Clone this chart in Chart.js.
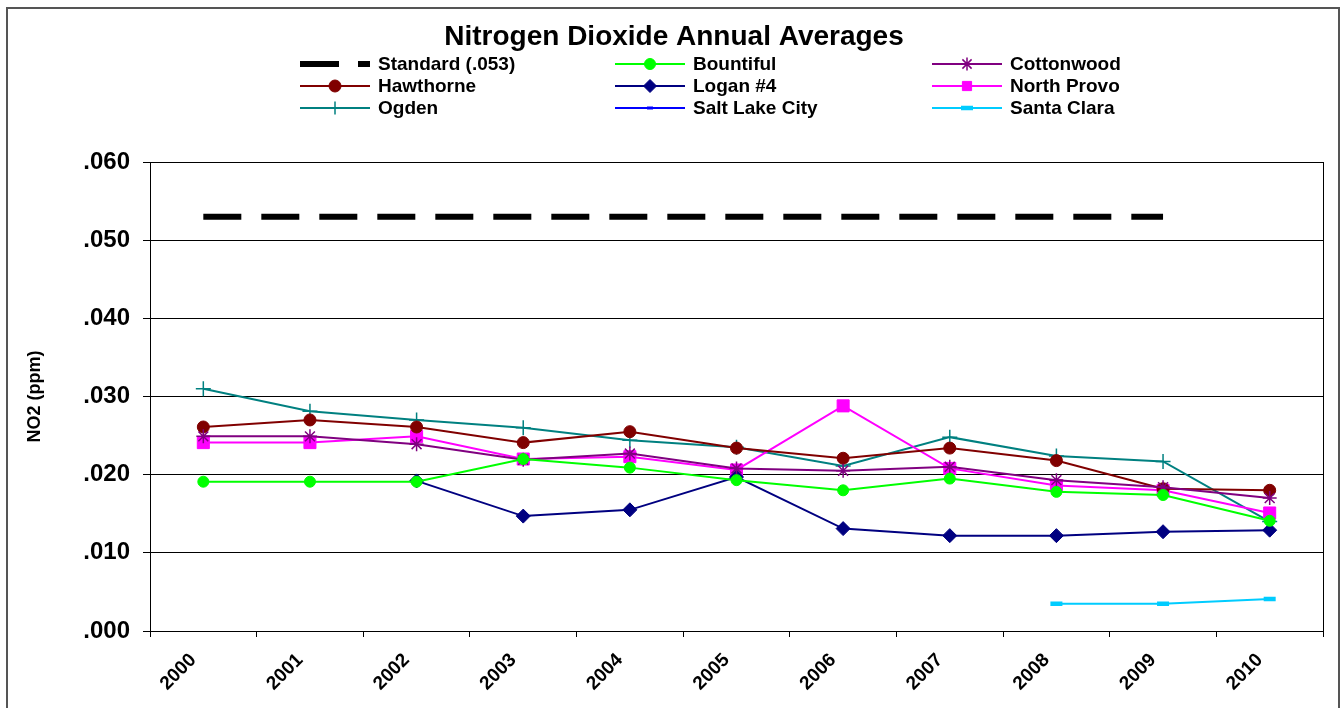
<!DOCTYPE html>
<html><head><meta charset="utf-8">
<script src="https://cdn.jsdelivr.net/npm/chart.js@4.4.1/dist/chart.umd.min.js"></script>
<style>html,body{margin:0;padding:0;background:#fff;overflow:hidden}#wrap{width:1341px;height:708px;position:relative}canvas{display:block}</style>
</head><body><div id="wrap"><canvas id="c" width="1341" height="708"></canvas></div>
<script>
const chartTitle = 'Nitrogen Dioxide Annual Averages';
const axisTitle = 'NO2 (ppm)';
const years = ['2000','2001','2002','2003','2004','2005','2006','2007','2008','2009','2010'];
const standard = [0.053,0.053,0.053,0.053,0.053,0.053,0.053,0.053,0.053,0.053,null];
const bountiful = [0.0191,0.0191,0.0191,0.0220,0.0209,0.0193,0.0180,0.0195,0.0178,0.0174,0.0141];
const cottonwood = [0.0249,0.0249,0.0239,0.0219,0.0227,0.0208,0.0205,0.0210,0.0193,0.0184,0.0170];
const hawthorne = [0.0261,0.0270,0.0261,0.0241,0.0255,0.0234,0.0221,0.0234,0.0218,0.0182,0.0180];
const logan4 = [null,null,0.0192,0.0147,0.0155,0.0197,0.0131,0.0122,0.0122,0.0127,0.0129];
const northProvo = [0.0241,0.0241,0.0249,0.0220,0.0223,0.0206,0.0288,0.0208,0.0186,0.0180,0.0151];
const ogden = [0.0310,0.0281,0.0270,0.0260,0.0244,0.0235,0.0211,0.0248,0.0224,0.0217,0.0140];
const saltLakeCity = [null,null,null,null,null,null,null,null,null,null,null];
const santaClara = [null,null,null,null,null,null,null,null,0.0035,0.0035,0.0041];
const yTicks = [0,0.01,0.02,0.03,0.04,0.05,0.06];

const FONT = '"Liberation Sans", Arial, sans-serif';

function series(label, data, color, style, radius, bw, pbw) {
  return {label, data, borderColor: color, backgroundColor: color,
    pointBackgroundColor: color, pointBorderColor: color,
    pointStyle: style, pointRadius: radius, pointHoverRadius: radius,
    borderWidth: bw, pointBorderWidth: pbw, spanGaps: false, tension: 0};
}

const datasets = [
  Object.assign(series('Standard (.053)', standard, '#000000', 'circle', 0, 6, 0), {borderDash:[38,20], borderCapStyle:'butt'}),
  series('Bountiful', bountiful, '#00FF00', 'circle', 5.5, 2, 1),
  series('Cottonwood', cottonwood, '#800080', 'star', 7, 2, 1.5),
  series('Hawthorne', hawthorne, '#800000', 'circle', 6, 2, 1),
  series('Logan #4', logan4, '#000080', 'rectRot', 7, 2, 1),
  series('North Provo', northProvo, '#FF00FF', 'rect', 8.5, 2, 1),
  series('Ogden', ogden, '#008080', 'cross', 7.5, 2, 1.5),
  series('Salt Lake City', saltLakeCity, '#0000FF', 'line', 3, 2, 3),
  series('Santa Clara', santaClara, '#00CCFF', 'line', 6, 2, 4.5)
];

const legendCols = [300, 615, 932];
const legendRows = [64, 86, 108];

const decor = {
  id: 'decor',
  beforeDraw(chart) {
    const ctx = chart.ctx;
    ctx.save();
    ctx.fillStyle = '#fff';
    ctx.fillRect(0, 0, chart.width, chart.height);
    ctx.strokeStyle = '#555';
    ctx.lineWidth = 2;
    ctx.strokeRect(7, 8, 1332, 760);
    ctx.restore();
  },
  beforeDatasetsDraw(chart) {
    const ctx = chart.ctx, a = chart.chartArea;
    ctx.save();
    ctx.strokeStyle = '#000';
    ctx.lineWidth = 1;
    ctx.strokeRect(Math.round(a.left) + 0.5, Math.round(a.top) + 0.5, Math.round(a.right - a.left), Math.round(a.bottom - a.top));
    ctx.restore();
  },
  afterDraw(chart) {
    const ctx = chart.ctx;
    ctx.save();
    ctx.fillStyle = '#000';
    ctx.textAlign = 'center';
    ctx.textBaseline = 'middle';
    ctx.font = 'bold 28px ' + FONT;
    ctx.fillText(chartTitle, 674, 37);
    ctx.font = 'bold 19px ' + FONT;
    ctx.textAlign = 'left';
    chart.data.datasets.forEach((ds, i) => {
      const x = legendCols[i % 3], y = legendRows[Math.floor(i / 3)];
      ctx.save();
      ctx.strokeStyle = ds.borderColor;
      ctx.lineCap = 'butt';
      if (ds.borderDash) {
        ctx.lineWidth = 6;
        ctx.beginPath(); ctx.moveTo(x, y); ctx.lineTo(x + 39, y); ctx.stroke();
        ctx.beginPath(); ctx.moveTo(x + 58, y); ctx.lineTo(x + 70, y); ctx.stroke();
      } else {
        ctx.lineWidth = ds.borderWidth;
        ctx.beginPath(); ctx.moveTo(x, y); ctx.lineTo(x + 70, y); ctx.stroke();
        ctx.fillStyle = ds.pointBackgroundColor;
        ctx.strokeStyle = ds.pointBorderColor;
        ctx.lineWidth = ds.pointBorderWidth;
        Chart.helpers.drawPoint(ctx, {pointStyle: ds.pointStyle, radius: Math.min(ds.pointRadius, 6.5), borderWidth: ds.pointBorderWidth, rotation: 0}, x + 35, y);
      }
      ctx.restore();
      ctx.fillStyle = '#000';
      ctx.fillText(ds.label, x + 78, y + 1);
    });
    ctx.restore();
  }
};

new Chart(document.getElementById('c'), {
  type: 'line',
  data: {labels: years, datasets},
  options: {
    responsive: false,
    animation: false,
    events: [],
    layout: {padding: {top: 162, right: 18, left: 0, bottom: 0}},
    plugins: {legend: {display: false}, title: {display: false}, tooltip: {enabled: false}},
    scales: {
      x: {
        offset: true,
        grid: {offset: true, drawOnChartArea: false, drawTicks: true, tickLength: 6, color: '#000', lineWidth: 1},
        border: {color: '#000', width: 1},
        ticks: {minRotation: 45, maxRotation: 45, autoSkip: false, color: '#000', padding: 12, labelOffset: -10, font: {family: FONT, size: 19, weight: 'bold'}},
        afterFit(s) { s.height = 77; }
      },
      y: {
        min: 0, max: 0.06,
        afterBuildTicks(s) { s.ticks = yTicks.map(v => ({value: v})); },
        ticks: {color: '#000', padding: 13, font: {family: FONT, size: 24, weight: 'bold'},
          callback: v => Number(v).toFixed(3).replace(/^0/, '')},
        grid: {color: '#000', lineWidth: 1, tickLength: 7},
        border: {color: '#000', width: 1},
        title: {display: true, text: axisTitle, color: '#000', font: {family: FONT, size: 18, weight: 'bold'}, padding: {top: 24, bottom: 0}},
        afterFit(s) { s.width = 150; }
      }
    }
  },
  plugins: [decor]
});
</script>
</body></html>
